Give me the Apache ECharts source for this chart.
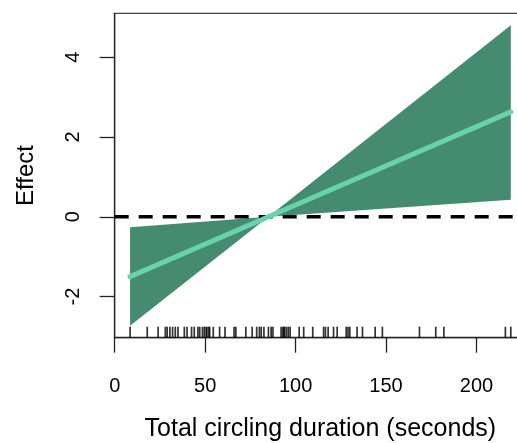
<!DOCTYPE html>
<html><head><meta charset="utf-8">
<script src="https://cdn.jsdelivr.net/npm/echarts@6/dist/echarts.min.js"></script>
<style>html,body{margin:0;padding:0;background:#fff}#c{width:517px;height:443px}</style>
</head><body><div id="c"></div>
<script>
// Fitted effect and confidence band
const xFit = [8.5, 85, 219];
const fit = [-1.50, 0, 2.63];
const lower = [-2.73, 0, 0.43];
const upper = [-0.26, 0, 4.80];
// Rug (observed circling durations, seconds)
const rug = [8.5, 18, 24, 28, 29, 30.5, 32, 33.5, 35, 38.5, 40, 42.5, 44, 46, 47, 48.5, 49.5, 50.5, 51, 52, 52.5,
  54.5, 58, 61, 66, 67, 72.5, 76, 78.5, 80, 81, 82.5, 85, 86.5, 87.5, 92, 93, 93.5, 94, 95, 96, 97,
  102, 104.5, 109.5, 115.5, 116.5, 118, 121, 123, 128, 129, 130, 134, 137, 144, 148, 168.5, 177.5, 182, 216, 219];
// Axis ticks
const xTicks = [0, 50, 100, 150, 200];
const yTicks = [-2, 0, 2, 4];
const xRange = [0, 227.4];
const yRange = [-3.03, 5.10];

const font = 'Liberation Sans, Arial, Helvetica, sans-serif';
const chart = echarts.init(document.getElementById('c'), null, {renderer: 'canvas'});
const band = xFit.map((x, i) => [x, lower[i], upper[i]]);
chart.setOption({
  animation: false,
  grid: {left: 114.7, top: 13.3, width: 411.3, height: 324.4, outerBoundsMode: 'none', containLabel: false,
    show: true, borderColor: '#444', borderWidth: 1.2, backgroundColor: 'transparent'},
  xAxis: {
    type: 'value', min: xRange[0], max: xRange[1],
    name: 'Total circling duration (seconds)', nameLocation: 'middle', nameGap: 79,
    nameTextStyle: {fontFamily: font, fontSize: 25, color: '#000'},
    axisLine: {show: true, onZero: false, lineStyle: {color: '#222', width: 1.3}},
    axisTick: {show: true, length: 15, customValues: xTicks, lineStyle: {color: '#222', width: 1.3}},
    axisLabel: {customValues: xTicks, fontFamily: font, fontSize: 20, color: '#000', margin: 39},
    splitLine: {show: false}
  },
  yAxis: {
    type: 'value', min: yRange[0], max: yRange[1],
    name: 'Effect', nameLocation: 'middle', nameGap: 76, nameRotate: 90,
    nameTextStyle: {fontFamily: font, fontSize: 24, color: '#000'},
    axisLine: {show: true, onZero: false, lineStyle: {color: '#222', width: 1.3}},
    axisTick: {show: true, length: 15, customValues: yTicks, lineStyle: {color: '#222', width: 1.3}},
    axisLabel: {customValues: yTicks, rotate: 90, fontFamily: font, fontSize: 20, color: '#000', margin: 31},
    splitLine: {show: false}
  },
  series: [
    {
      type: 'custom', data: band, clip: true, z: 1,
      renderItem: function (params, api) {
        if (params.dataIndex !== 0) return null;
        const top = band.map(d => api.coord([d[0], d[2]]));
        const bot = band.slice().reverse().map(d => api.coord([d[0], d[1]]));
        return {type: 'polygon', shape: {points: top.concat(bot)}, style: {fill: '#458B6F', stroke: null}};
      }
    },
    {
      type: 'line', data: [[xRange[0], 0], [xRange[1], 0]], symbol: 'none', z: 2,
      lineStyle: {color: '#000', width: 3.5, type: [14, 10]}
    },
    {
      type: 'line', data: xFit.map((x, i) => [x, fit[i]]), symbol: 'none', z: 3,
      lineStyle: {color: '#66D3AA', width: 5, cap: 'round'}
    },
    {
      type: 'scatter', data: rug.map(x => [x, yRange[0]]), symbol: 'rect', symbolSize: [1.7, 11],
      symbolOffset: [0, -5.5], clip: false, z: 4, itemStyle: {color: '#000'}, silent: true
    }
  ]
});
</script></body></html>
